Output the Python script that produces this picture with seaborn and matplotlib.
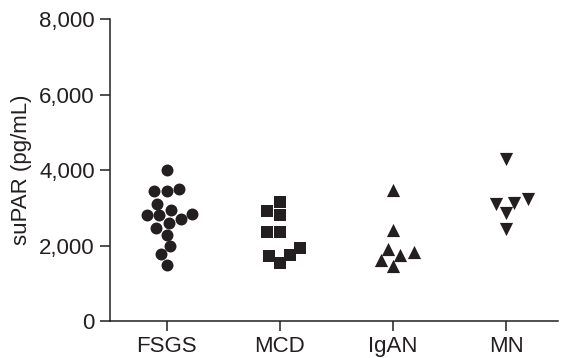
import matplotlib
matplotlib.use('Agg')
import matplotlib.pyplot as plt
import seaborn as sns
import pandas as pd

groups = ['FSGS', 'MCD', 'IgAN', 'MN']
fsgs = [3990, 3510, 3450, 3450, 3110, 2930, 2820, 2700, 2800, 2840, 2600, 2470, 2290, 1980, 1770, 1490]
mcd = [3150, 2820, 2910, 2350, 2350, 1930, 1760, 1730, 1550]
igan = [3470, 2400, 1920, 1760, 1840, 1620, 1460]
mn = [4300, 3130, 3090, 3240, 2850, 2440]
markers = ['o', 's', '^', 'v']
yticks = [0, 2000, 4000, 6000, 8000]

ink = '#231f20'

sns.set_style('ticks')
plt.rcParams['font.family'] = ['Liberation Sans', 'DejaVu Sans']

df = pd.DataFrame({
    'group': sum([[g] * len(v) for g, v in zip(groups, [fsgs, mcd, igan, mn])], []),
    'suPAR': fsgs + mcd + igan + mn,
})

fig = plt.figure(figsize=(5.61, 3.58), dpi=100)
ax = fig.add_axes([0.196, 0.1034, 0.799, 0.843])

sizes = {'o': 8.6, 's': 8.8, '^': 9.5, 'v': 9.5}
for g, m in zip(groups, markers):
    sns.swarmplot(data=df[df['group'] == g], x='group', y='suPAR', order=groups,
                  marker=m, color=ink, size=sizes[m], linewidth=0, ax=ax)

ax.set_xlim(-0.5, 3.46)
ax.set_ylim(0, 8000)
ax.set_yticks(yticks)
ax.set_yticklabels([f'{t:,}' for t in yticks])
ax.set_xlabel('')
ax.set_ylabel('suPAR (pg/mL)', fontsize=16, color=ink)
ax.yaxis.set_label_coords(-0.175, 0.5)
ax.tick_params(axis='both', labelsize=16, colors=ink, length=7, width=1.1, pad=4)
for side in ['top', 'right']:
    ax.spines[side].set_visible(False)
for side in ['left', 'bottom']:
    ax.spines[side].set_color(ink)
    ax.spines[side].set_linewidth(1.1)

plt.savefig('out.png', dpi=100)
plt.close()
